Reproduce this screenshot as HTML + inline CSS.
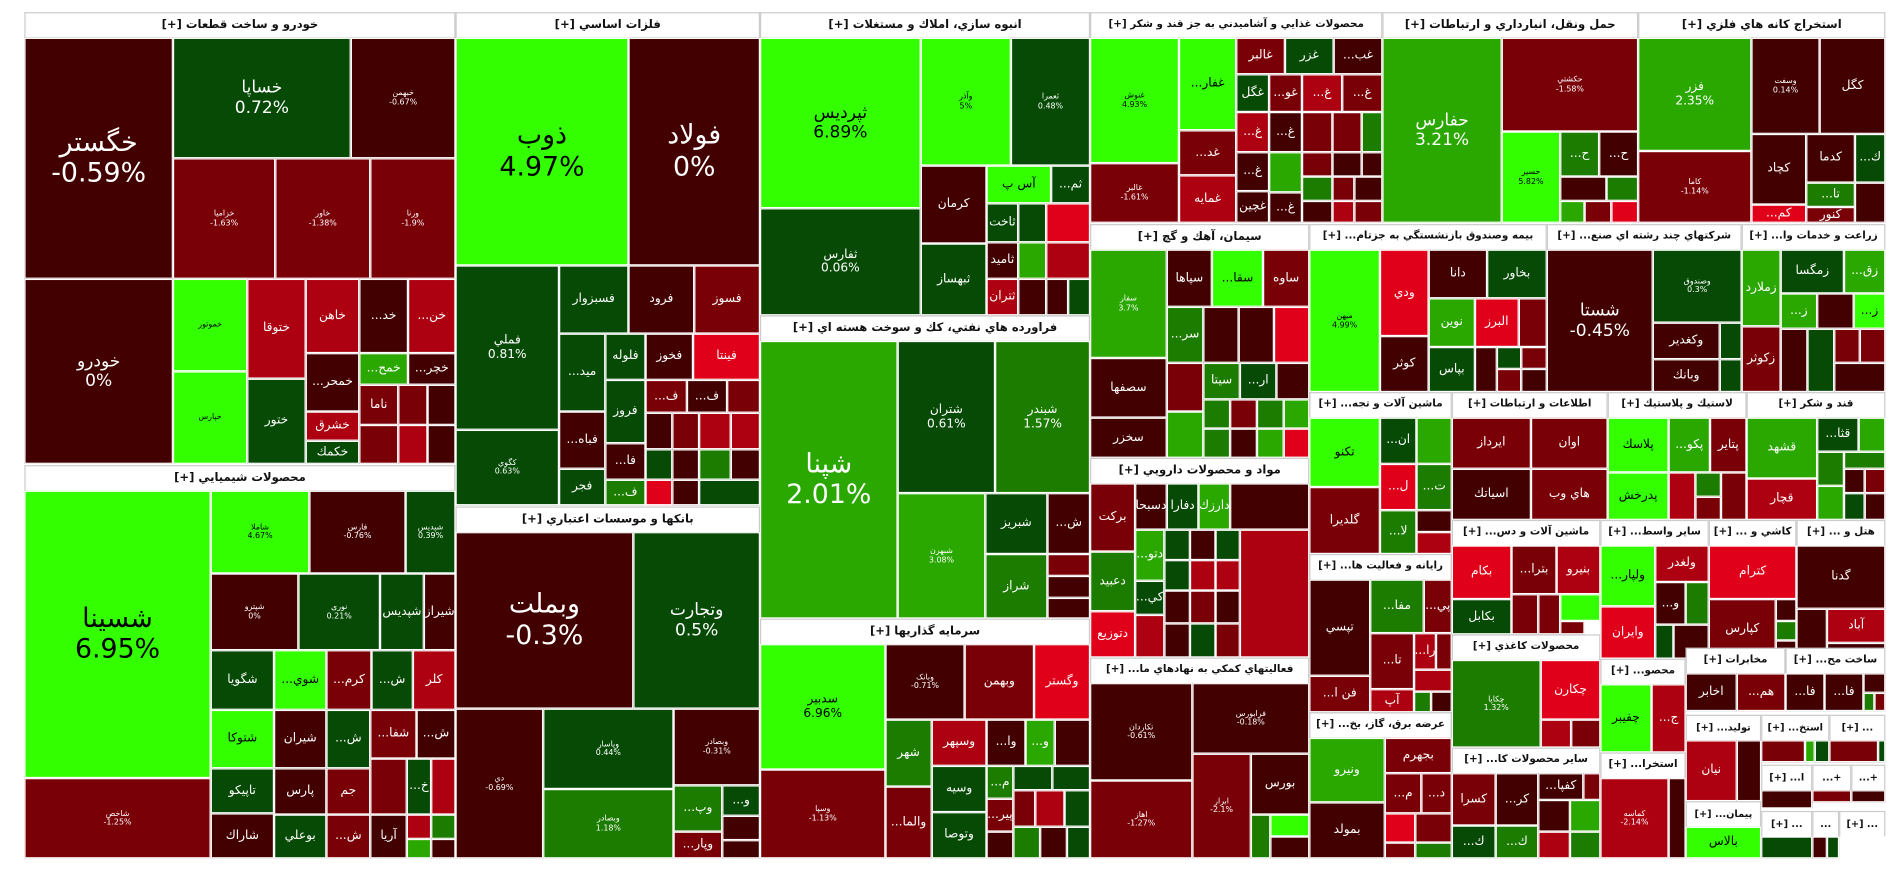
<!DOCTYPE html>
<html><head><meta charset="utf-8"><style>
html,body{margin:0;padding:0;background:#fff;width:1900px;height:873px;overflow:hidden}
#w{position:absolute;left:0;top:0;width:1560px;height:717px;transform:scale(1.21795,1.2176);transform-origin:0 0}
.t,.h{position:absolute;box-sizing:border-box;overflow:hidden;font-family:"DejaVu Sans","Liberation Sans",sans-serif;text-align:center;display:flex;flex-direction:column;align-items:center;justify-content:center;line-height:1.15;white-space:nowrap}
.h{direction:rtl}
.t{direction:ltr;border:1px solid #fff;color:#fff;font-size:10px}
.h{background:#fff;color:#111;font-size:9.5px;font-weight:bold;height:21px;border:1px solid #ccc;border-bottom:none}
.a{background:#420000}.b{background:#7a0008}.c{background:#ad0010}.d{background:#e0001a}
.f{background:#064a06}.g{background:#1c7c00}.k{background:#2aa800}.i{background:#33ff00;color:#000}
.L{font-size:22px}.M{font-size:14px}.S{font-size:6.5px}
</style></head><body><div id="w">
<!-- خودرو -->
<div class="h" style="left:20px;top:10px;width:354px">خودرو و ساخت قطعات [+]</div>
<div class="t a L" style="left:20px;top:31px;width:122px;height:198px">خگستر<br>-0.59%</div>
<div class="t a M" style="left:20px;top:229px;width:122px;height:152px">خودرو<br>0%</div>
<div class="t f M" style="left:142px;top:31px;width:146px;height:99px">خساپا<br>0.72%</div>
<div class="t a S" style="left:288px;top:31px;width:86px;height:99px">خبهمن<br>-0.67%</div>
<div class="t b S" style="left:142px;top:130px;width:84px;height:99px">خزامیا<br>-1.63%</div>
<div class="t b S" style="left:226px;top:130px;width:78px;height:99px">خاور<br>-1.38%</div>
<div class="t b S" style="left:304px;top:130px;width:70px;height:99px">ورنا<br>-1.9%</div>
<div class="t i S" style="left:142px;top:229px;width:61px;height:76px">خموتور</div>
<div class="t i S" style="left:142px;top:305px;width:61px;height:76px">خپارس</div>
<div class="t c" style="left:203px;top:229px;width:48px;height:82px">ختوقا</div>
<div class="t f" style="left:203px;top:311px;width:48px;height:70px">ختور</div>
<div class="t c" style="left:251px;top:229px;width:44px;height:61px">خاهن</div>
<div class="t a" style="left:295px;top:229px;width:40px;height:61px">...خد</div>
<div class="t c" style="left:335px;top:229px;width:39px;height:61px">...خن</div>
<div class="t a" style="left:251px;top:290px;width:44px;height:48px">...خمحر</div>
<div class="t k" style="left:295px;top:290px;width:40px;height:26px">...خمح</div>
<div class="t a" style="left:335px;top:290px;width:39px;height:26px">...خچر</div>
<div class="t c" style="left:251px;top:338px;width:44px;height:24px">خشرق</div>
<div class="t f" style="left:251px;top:362px;width:44px;height:19px">خكمك</div>
<div class="t b" style="left:295px;top:316px;width:32px;height:33px">ناما</div>
<div class="t b" style="left:327px;top:316px;width:24px;height:33px"></div>
<div class="t a" style="left:351px;top:316px;width:23px;height:33px"></div>
<div class="t b" style="left:295px;top:349px;width:32px;height:32px"></div>
<div class="t c" style="left:327px;top:349px;width:24px;height:32px"></div>
<div class="t a" style="left:351px;top:349px;width:23px;height:32px"></div>
<!-- شیمیایی -->
<div class="h" style="left:20px;top:382px;width:354px">محصولات شيميايي [+]</div>
<div class="t i L" style="left:20px;top:403px;width:153px;height:236px">شسينا<br>6.95%</div>
<div class="t b S" style="left:20px;top:639px;width:153px;height:66px">شاخص<br>-1.25%</div>
<div class="t i S" style="left:173px;top:403px;width:81px;height:68px">شاملا<br>4.67%</div>
<div class="t a S" style="left:254px;top:403px;width:79px;height:68px">فارس<br>-0.76%</div>
<div class="t f S" style="left:333px;top:403px;width:41px;height:68px">شپدیس<br>0.39%</div>
<div class="t a S" style="left:173px;top:471px;width:72px;height:63px">شپترو<br>0%</div>
<div class="t f S" style="left:245px;top:471px;width:67px;height:63px">نوری<br>0.21%</div>
<div class="t f" style="left:312px;top:471px;width:36px;height:63px">شپديس</div>
<div class="t a" style="left:348px;top:471px;width:26px;height:63px">شيراز</div>
<div class="t f" style="left:173px;top:534px;width:52px;height:49px">شگويا</div>
<div class="t i" style="left:225px;top:534px;width:43px;height:49px">...شوي</div>
<div class="t b" style="left:268px;top:534px;width:37px;height:49px">...كرم</div>
<div class="t f" style="left:305px;top:534px;width:34px;height:49px">...ش</div>
<div class="t c" style="left:339px;top:534px;width:35px;height:49px">كلر</div>
<div class="t i" style="left:173px;top:583px;width:52px;height:48px">شتوكا</div>
<div class="t f" style="left:173px;top:631px;width:52px;height:37px">تاپيكو</div>
<div class="t a" style="left:173px;top:668px;width:52px;height:37px">شاراك</div>
<div class="t a" style="left:225px;top:583px;width:43px;height:48px">شيران</div>
<div class="t a" style="left:225px;top:631px;width:43px;height:38px">پارس</div>
<div class="t f" style="left:225px;top:669px;width:43px;height:36px">بوعلي</div>
<div class="t f" style="left:268px;top:583px;width:36px;height:48px">...ش</div>
<div class="t b" style="left:268px;top:631px;width:36px;height:38px">جم</div>
<div class="t b" style="left:268px;top:669px;width:36px;height:36px">...ش</div>
<div class="t b" style="left:304px;top:583px;width:38px;height:40px">...شفا</div>
<div class="t a" style="left:342px;top:583px;width:32px;height:40px">...ش</div>
<div class="t b" style="left:304px;top:623px;width:30px;height:46px"></div>
<div class="t f" style="left:334px;top:623px;width:20px;height:46px">...خ</div>
<div class="t c" style="left:354px;top:623px;width:20px;height:46px"></div>
<div class="t a" style="left:304px;top:669px;width:30px;height:36px">آريا</div>
<div class="t c" style="left:334px;top:669px;width:20px;height:20px"></div>
<div class="t g" style="left:354px;top:669px;width:20px;height:20px"></div>
<div class="t k" style="left:334px;top:689px;width:20px;height:16px"></div>
<div class="t a" style="left:354px;top:689px;width:20px;height:16px"></div>
<!-- فلزات -->
<div class="h" style="left:374px;top:10px;width:250px">فلزات اساسي [+]</div>
<div class="t i L" style="left:374px;top:31px;width:142px;height:187px">ذوب<br>4.97%</div>
<div class="t a L" style="left:516px;top:31px;width:108px;height:187px">فولاد<br>0%</div>
<div class="t f" style="left:374px;top:218px;width:85px;height:135px">فملي<br>0.81%</div>
<div class="t f S" style="left:374px;top:353px;width:85px;height:62px">كگوي<br>0.63%</div>
<div class="t f" style="left:459px;top:218px;width:57px;height:56px">فسبزوار</div>
<div class="t a" style="left:516px;top:218px;width:54px;height:56px">فرود</div>
<div class="t b" style="left:570px;top:218px;width:54px;height:56px">فسوز</div>
<div class="t f" style="left:459px;top:274px;width:38px;height:64px">...ميد</div>
<div class="t f" style="left:497px;top:274px;width:33px;height:38px">فلوله</div>
<div class="t a" style="left:530px;top:274px;width:39px;height:38px">فخوز</div>
<div class="t d" style="left:569px;top:274px;width:55px;height:38px">فينتا</div>
<div class="t f" style="left:497px;top:312px;width:33px;height:52px">فروز</div>
<div class="t b" style="left:530px;top:312px;width:34px;height:27px">...ف</div>
<div class="t a" style="left:564px;top:312px;width:33px;height:27px">...ف</div>
<div class="t b" style="left:597px;top:312px;width:27px;height:27px"></div>
<div class="t a" style="left:459px;top:338px;width:38px;height:47px">...فباه</div>
<div class="t f" style="left:459px;top:385px;width:38px;height:30px">فجر</div>
<div class="t a" style="left:497px;top:364px;width:33px;height:30px">...فا</div>
<div class="t g" style="left:497px;top:394px;width:33px;height:21px">...ف</div>
<div class="t a" style="left:530px;top:339px;width:22px;height:30px"></div>
<div class="t b" style="left:552px;top:339px;width:22px;height:30px"></div>
<div class="t c" style="left:574px;top:339px;width:26px;height:30px"></div>
<div class="t c" style="left:600px;top:339px;width:24px;height:30px"></div>
<div class="t f" style="left:530px;top:369px;width:22px;height:25px"></div>
<div class="t a" style="left:552px;top:369px;width:22px;height:25px"></div>
<div class="t g" style="left:574px;top:369px;width:26px;height:25px"></div>
<div class="t a" style="left:600px;top:369px;width:24px;height:25px"></div>
<div class="t d" style="left:530px;top:394px;width:22px;height:21px"></div>
<div class="t a" style="left:552px;top:394px;width:22px;height:21px"></div>
<div class="t f" style="left:574px;top:394px;width:50px;height:21px"></div>
<!-- بانکها -->
<div class="h" style="left:374px;top:416px;width:250px">بانكها و موسسات اعتباري [+]</div>
<div class="t a L" style="left:374px;top:437px;width:146px;height:145px">وبملت<br>-0.3%</div>
<div class="t f M" style="left:520px;top:437px;width:104px;height:145px">وتجارت<br>0.5%</div>
<div class="t a S" style="left:374px;top:582px;width:72px;height:123px">دي<br>-0.69%</div>
<div class="t f S" style="left:446px;top:582px;width:107px;height:66px">وپاسار<br>0.44%</div>
<div class="t g S" style="left:446px;top:648px;width:107px;height:57px">وبصادر<br>1.18%</div>
<div class="t a S" style="left:553px;top:582px;width:71px;height:63px">وبصادر<br>-0.31%</div>
<div class="t g" style="left:553px;top:645px;width:40px;height:38px">...وپ</div>
<div class="t f" style="left:593px;top:645px;width:31px;height:25px">...و</div>
<div class="t a" style="left:593px;top:670px;width:31px;height:20px"></div>
<div class="t b" style="left:553px;top:683px;width:40px;height:22px">...وپار</div>
<div class="t a" style="left:593px;top:690px;width:31px;height:15px"></div>
<!-- انبوه سازی -->
<div class="h" style="left:624px;top:10px;width:271px">انبوه سازي، املاك و مستغلات [+]</div>
<div class="t i M" style="left:624px;top:31px;width:132px;height:140px">ثپرديس<br>6.89%</div>
<div class="t f" style="left:624px;top:171px;width:132px;height:88px">ثفارس<br>0.06%</div>
<div class="t i S" style="left:756px;top:31px;width:74px;height:105px">وآذر<br>5%</div>
<div class="t f S" style="left:830px;top:31px;width:65px;height:105px">ثعمرا<br>0.48%</div>
<div class="t a" style="left:756px;top:136px;width:54px;height:64px">كرمان</div>
<div class="t f" style="left:756px;top:200px;width:54px;height:59px">ثبهساز</div>
<div class="t i" style="left:810px;top:136px;width:53px;height:31px">آس پ</div>
<div class="t f" style="left:863px;top:136px;width:32px;height:31px">...ثم</div>
<div class="t f" style="left:810px;top:167px;width:26px;height:32px">ثاخت</div>
<div class="t a" style="left:810px;top:199px;width:26px;height:30px">ثامید</div>
<div class="t c" style="left:810px;top:229px;width:26px;height:30px">ثتران</div>
<div class="t f" style="left:836px;top:167px;width:23px;height:32px"></div>
<div class="t d" style="left:859px;top:167px;width:36px;height:32px"></div>
<div class="t k" style="left:836px;top:199px;width:23px;height:30px"></div>
<div class="t c" style="left:859px;top:199px;width:36px;height:30px"></div>
<div class="t a" style="left:836px;top:229px;width:23px;height:30px"></div>
<div class="t a" style="left:859px;top:229px;width:18px;height:30px"></div>
<div class="t f" style="left:877px;top:229px;width:18px;height:30px"></div>
<!-- فراورده نفتی -->
<div class="h" style="left:624px;top:259px;width:271px">فراورده هاي نفتي، كك و سوخت هسته اي [+]</div>
<div class="t k L" style="left:624px;top:280px;width:113px;height:228px">شپنا<br>2.01%</div>
<div class="t f" style="left:737px;top:280px;width:80px;height:125px">شتران<br>0.61%</div>
<div class="t g" style="left:817px;top:280px;width:78px;height:125px">شبندر<br>1.57%</div>
<div class="t k S" style="left:737px;top:405px;width:72px;height:103px">شبهرن<br>3.08%</div>
<div class="t f" style="left:809px;top:405px;width:51px;height:50px">شبريز</div>
<div class="t a" style="left:860px;top:405px;width:35px;height:50px">...ش</div>
<div class="t g" style="left:809px;top:455px;width:51px;height:53px">شراز</div>
<div class="t b" style="left:860px;top:455px;width:35px;height:18px"></div>
<div class="t a" style="left:860px;top:473px;width:35px;height:18px"></div>
<div class="t a" style="left:860px;top:491px;width:35px;height:17px"></div>
<!-- سرمایه گذاریها -->
<div class="h" style="left:624px;top:508px;width:271px">سرمايه گذاريها [+]</div>
<div class="t i" style="left:624px;top:529px;width:103px;height:103px">سدبير<br>6.96%</div>
<div class="t b S" style="left:624px;top:632px;width:103px;height:73px">وسپا<br>-1.13%</div>
<div class="t a S" style="left:727px;top:529px;width:65px;height:62px">وبانک<br>-0.71%</div>
<div class="t b" style="left:792px;top:529px;width:57px;height:62px">وبهمن</div>
<div class="t d" style="left:849px;top:529px;width:46px;height:62px">وگستر</div>
<div class="t g" style="left:727px;top:591px;width:38px;height:55px">شهر</div>
<div class="t b" style="left:727px;top:646px;width:38px;height:59px">...والما</div>
<div class="t c" style="left:765px;top:591px;width:45px;height:38px">وسپهر</div>
<div class="t f" style="left:765px;top:629px;width:45px;height:38px">وسيه</div>
<div class="t f" style="left:765px;top:667px;width:45px;height:38px">وتوصا</div>
<div class="t a" style="left:810px;top:591px;width:32px;height:38px">...وا</div>
<div class="t k" style="left:842px;top:591px;width:24px;height:38px">...و</div>
<div class="t a" style="left:866px;top:591px;width:29px;height:38px"></div>
<div class="t g" style="left:810px;top:629px;width:22px;height:27px">...م</div>
<div class="t b" style="left:810px;top:656px;width:22px;height:27px">...پير</div>
<div class="t a" style="left:810px;top:683px;width:22px;height:22px"></div>
<div class="t f" style="left:832px;top:629px;width:32px;height:20px"></div>
<div class="t f" style="left:864px;top:629px;width:31px;height:20px"></div>
<div class="t b" style="left:832px;top:649px;width:18px;height:30px"></div>
<div class="t c" style="left:850px;top:649px;width:24px;height:30px"></div>
<div class="t f" style="left:874px;top:649px;width:21px;height:30px"></div>
<div class="t g" style="left:832px;top:679px;width:22px;height:26px"></div>
<div class="t a" style="left:854px;top:679px;width:22px;height:26px"></div>
<div class="t f" style="left:876px;top:679px;width:19px;height:26px"></div>
<!-- غذایی -->
<div class="h" style="left:895px;top:10px;width:240px;font-size:8.5px">محصولات غذايي و آشاميدني به جز قند و شكر [+]</div>
<div class="t i S" style="left:895px;top:31px;width:73px;height:103px">غنوش<br>4.93%</div>
<div class="t b S" style="left:895px;top:134px;width:73px;height:49px">غالبر<br>-1.61%</div>
<div class="t i" style="left:968px;top:31px;width:47px;height:76px">...غفار</div>
<div class="t b" style="left:968px;top:107px;width:47px;height:37px">...غد</div>
<div class="t c" style="left:968px;top:144px;width:47px;height:39px">غمايه</div>
<div class="t b" style="left:1015px;top:31px;width:40px;height:30px">غالبر</div>
<div class="t f" style="left:1055px;top:31px;width:40px;height:30px">غزر</div>
<div class="t a" style="left:1095px;top:31px;width:40px;height:30px">...غب</div>
<div class="t f" style="left:1015px;top:61px;width:27px;height:31px">غگل</div>
<div class="t b" style="left:1042px;top:61px;width:27px;height:31px">...غو</div>
<div class="t c" style="left:1069px;top:61px;width:33px;height:31px">...غ</div>
<div class="t b" style="left:1102px;top:61px;width:33px;height:31px">...غ</div>
<div class="t c" style="left:1015px;top:92px;width:27px;height:33px">...غ</div>
<div class="t a" style="left:1042px;top:92px;width:27px;height:33px">...غ</div>
<div class="t b" style="left:1069px;top:92px;width:25px;height:33px"></div>
<div class="t b" style="left:1094px;top:92px;width:24px;height:33px"></div>
<div class="t g" style="left:1118px;top:92px;width:17px;height:33px"></div>
<div class="t a" style="left:1015px;top:125px;width:27px;height:32px">...غ</div>
<div class="t a" style="left:1015px;top:157px;width:27px;height:26px">غچين</div>
<div class="t k" style="left:1042px;top:125px;width:27px;height:33px"></div>
<div class="t a" style="left:1042px;top:158px;width:27px;height:25px">...غ</div>
<div class="t b" style="left:1069px;top:125px;width:25px;height:20px"></div>
<div class="t a" style="left:1094px;top:125px;width:24px;height:20px"></div>
<div class="t a" style="left:1118px;top:125px;width:17px;height:20px"></div>
<div class="t g" style="left:1069px;top:145px;width:25px;height:20px"></div>
<div class="t b" style="left:1094px;top:145px;width:18px;height:20px"></div>
<div class="t a" style="left:1112px;top:145px;width:23px;height:20px"></div>
<div class="t a" style="left:1069px;top:165px;width:25px;height:18px"></div>
<div class="t c" style="left:1094px;top:165px;width:18px;height:18px"></div>
<div class="t b" style="left:1112px;top:165px;width:23px;height:18px"></div>
<!-- حمل و نقل -->
<div class="h" style="left:1135px;top:10px;width:210px">حمل ونقل، انبارداري و ارتباطات [+]</div>
<div class="t k M" style="left:1135px;top:31px;width:98px;height:152px">حفارس<br>3.21%</div>
<div class="t b S" style="left:1233px;top:31px;width:112px;height:77px">حكشتي<br>-1.58%</div>
<div class="t i S" style="left:1233px;top:108px;width:48px;height:75px">حسير<br>5.82%</div>
<div class="t g" style="left:1281px;top:108px;width:32px;height:37px">...ح</div>
<div class="t a" style="left:1313px;top:108px;width:32px;height:37px">...ح</div>
<div class="t a" style="left:1281px;top:145px;width:38px;height:20px"></div>
<div class="t g" style="left:1319px;top:145px;width:26px;height:20px"></div>
<div class="t k" style="left:1281px;top:165px;width:20px;height:18px"></div>
<div class="t b" style="left:1301px;top:165px;width:22px;height:18px"></div>
<div class="t d" style="left:1323px;top:165px;width:22px;height:18px"></div>
<!-- استخراج -->
<div class="h" style="left:1345px;top:10px;width:203px">استخراج كانه هاي فلزي [+]</div>
<div class="t k" style="left:1345px;top:31px;width:93px;height:93px">فزر<br>2.35%</div>
<div class="t b S" style="left:1345px;top:124px;width:93px;height:59px">كاما<br>-1.14%</div>
<div class="t a S" style="left:1438px;top:31px;width:56px;height:79px">وسفت<br>0.14%</div>
<div class="t a" style="left:1494px;top:31px;width:54px;height:79px">كگل</div>
<div class="t a" style="left:1438px;top:110px;width:45px;height:58px">كچاد</div>
<div class="t d" style="left:1438px;top:168px;width:45px;height:15px">...كم</div>
<div class="t a" style="left:1483px;top:110px;width:40px;height:40px">كدما</div>
<div class="t f" style="left:1523px;top:110px;width:25px;height:40px">...ك</div>
<div class="t g" style="left:1483px;top:150px;width:40px;height:20px">...تا</div>
<div class="t b" style="left:1483px;top:170px;width:40px;height:13px">كنور</div>
<div class="t a" style="left:1523px;top:150px;width:25px;height:33px"></div>
<!-- سیمان -->
<div class="h" style="left:895px;top:184px;width:180px">سيمان، آهك و گچ [+]</div>
<div class="t k S" style="left:895px;top:205px;width:63px;height:89px">سفار<br>3.7%</div>
<div class="t a" style="left:895px;top:294px;width:63px;height:49px">سصفها</div>
<div class="t a" style="left:895px;top:343px;width:63px;height:33px">سخزر</div>
<div class="t a" style="left:958px;top:205px;width:37px;height:47px">سپاها</div>
<div class="t i" style="left:995px;top:205px;width:42px;height:47px">...سقا</div>
<div class="t b" style="left:1037px;top:205px;width:38px;height:47px">ساوه</div>
<div class="t g" style="left:958px;top:252px;width:30px;height:46px">...سر</div>
<div class="t a" style="left:988px;top:252px;width:29px;height:46px"></div>
<div class="t a" style="left:1017px;top:252px;width:29px;height:46px"></div>
<div class="t d" style="left:1046px;top:252px;width:29px;height:46px"></div>
<div class="t b" style="left:958px;top:298px;width:30px;height:40px"></div>
<div class="t k" style="left:958px;top:338px;width:30px;height:38px"></div>
<div class="t g" style="left:988px;top:298px;width:30px;height:30px">سيتا</div>
<div class="t f" style="left:1018px;top:298px;width:30px;height:30px">...ار</div>
<div class="t a" style="left:1048px;top:298px;width:27px;height:30px"></div>
<div class="t g" style="left:988px;top:328px;width:22px;height:24px"></div>
<div class="t b" style="left:1010px;top:328px;width:22px;height:24px"></div>
<div class="t g" style="left:1032px;top:328px;width:22px;height:24px"></div>
<div class="t k" style="left:1054px;top:328px;width:21px;height:24px"></div>
<div class="t g" style="left:988px;top:352px;width:22px;height:24px"></div>
<div class="t a" style="left:1010px;top:352px;width:22px;height:24px"></div>
<div class="t k" style="left:1032px;top:352px;width:22px;height:24px"></div>
<div class="t d" style="left:1054px;top:352px;width:21px;height:24px"></div>
<!-- دارویی -->
<div class="h" style="left:895px;top:376px;width:180px">مواد و محصولات دارويي [+]</div>
<div class="t b" style="left:895px;top:397px;width:37px;height:56px">بركت</div>
<div class="t g" style="left:895px;top:453px;width:37px;height:49px">دعبيد</div>
<div class="t d" style="left:895px;top:502px;width:37px;height:38px">دتوزيع</div>
<div class="t a" style="left:932px;top:397px;width:26px;height:38px">دسبحا</div>
<div class="t f" style="left:958px;top:397px;width:26px;height:38px">دفارا</div>
<div class="t k" style="left:984px;top:397px;width:26px;height:38px">دارزك</div>
<div class="t a" style="left:1010px;top:397px;width:65px;height:38px"></div>
<div class="t k" style="left:932px;top:435px;width:24px;height:42px">...دتو</div>
<div class="t f" style="left:932px;top:477px;width:24px;height:28px">...كي</div>
<div class="t c" style="left:932px;top:505px;width:24px;height:35px"></div>
<div class="t f" style="left:956px;top:435px;width:21px;height:25px"></div>
<div class="t a" style="left:977px;top:435px;width:21px;height:25px"></div>
<div class="t f" style="left:998px;top:435px;width:20px;height:25px"></div>
<div class="t f" style="left:956px;top:460px;width:21px;height:25px"></div>
<div class="t c" style="left:977px;top:460px;width:21px;height:25px"></div>
<div class="t c" style="left:998px;top:460px;width:20px;height:25px"></div>
<div class="t a" style="left:956px;top:485px;width:21px;height:27px"></div>
<div class="t b" style="left:977px;top:485px;width:21px;height:27px"></div>
<div class="t a" style="left:998px;top:485px;width:20px;height:27px"></div>
<div class="t a" style="left:956px;top:512px;width:21px;height:28px"></div>
<div class="t f" style="left:977px;top:512px;width:21px;height:28px"></div>
<div class="t b" style="left:998px;top:512px;width:20px;height:28px"></div>
<div class="t c" style="left:1018px;top:435px;width:57px;height:105px"></div>
<!-- فعالیتهای کمکی -->
<div class="h" style="left:895px;top:540px;width:180px;font-size:8.5px">فعاليتهاي كمكي به نهادهاي ما... [+]</div>
<div class="t a S" style="left:895px;top:561px;width:84px;height:80px">تكاردان<br>-0.61%</div>
<div class="t a S" style="left:979px;top:561px;width:96px;height:58px">فرابورس<br>-0.18%</div>
<div class="t b S" style="left:895px;top:641px;width:84px;height:64px">اهاز<br>-1.27%</div>
<div class="t b S" style="left:979px;top:619px;width:48px;height:86px">ابرار<br>-2.1%</div>
<div class="t a" style="left:1027px;top:619px;width:48px;height:50px">بورس</div>
<div class="t g" style="left:1027px;top:669px;width:16px;height:36px"></div>
<div class="t i" style="left:1043px;top:669px;width:32px;height:18px"></div>
<div class="t a" style="left:1043px;top:687px;width:32px;height:18px"></div>
<!-- بیمه -->
<div class="h" style="left:1075px;top:184px;width:195px;font-size:8.5px">بيمه وصندوق بازنشستگي به جزتام... [+]</div>
<div class="t i S" style="left:1075px;top:205px;width:58px;height:117px">ميهن<br>4.99%</div>
<div class="t d" style="left:1133px;top:205px;width:40px;height:71px">ودي</div>
<div class="t a" style="left:1133px;top:276px;width:40px;height:46px">كوثر</div>
<div class="t a" style="left:1173px;top:205px;width:48px;height:40px">دانا</div>
<div class="t f" style="left:1221px;top:205px;width:49px;height:40px">بخاور</div>
<div class="t k" style="left:1173px;top:245px;width:38px;height:40px">نوين</div>
<div class="t f" style="left:1173px;top:285px;width:38px;height:37px">بپاس</div>
<div class="t d" style="left:1211px;top:245px;width:36px;height:40px">البرز</div>
<div class="t b" style="left:1247px;top:245px;width:23px;height:40px"></div>
<div class="t a" style="left:1211px;top:285px;width:18px;height:37px"></div>
<div class="t f" style="left:1229px;top:285px;width:20px;height:18px"></div>
<div class="t b" style="left:1249px;top:285px;width:21px;height:18px"></div>
<div class="t b" style="left:1229px;top:303px;width:20px;height:19px"></div>
<div class="t a" style="left:1249px;top:303px;width:21px;height:19px"></div>
<!-- چند رشته -->
<div class="h" style="left:1270px;top:184px;width:160px;font-size:8.5px">شركتهاي چند رشته اي صنع... [+]</div>
<div class="t a M" style="left:1270px;top:205px;width:87px;height:117px">شستا<br>-0.45%</div>
<div class="t f S" style="left:1357px;top:205px;width:73px;height:60px">وصندوق<br>0.3%</div>
<div class="t a" style="left:1357px;top:265px;width:55px;height:30px">وكغدير</div>
<div class="t a" style="left:1357px;top:295px;width:55px;height:27px">وبانك</div>
<div class="t f" style="left:1412px;top:265px;width:18px;height:30px"></div>
<div class="t f" style="left:1412px;top:295px;width:18px;height:27px"></div>
<!-- زراعت -->
<div class="h" style="left:1430px;top:184px;width:118px;font-size:8.5px">زراعت و خدمات وا... [+]</div>
<div class="t k" style="left:1430px;top:205px;width:32px;height:63px">زملارد</div>
<div class="t b" style="left:1430px;top:268px;width:32px;height:54px">زكوثر</div>
<div class="t f" style="left:1462px;top:205px;width:52px;height:36px">زمگسا</div>
<div class="t k" style="left:1514px;top:205px;width:34px;height:36px">...زق</div>
<div class="t k" style="left:1462px;top:241px;width:30px;height:29px">...ز</div>
<div class="t a" style="left:1492px;top:241px;width:30px;height:29px"></div>
<div class="t i" style="left:1522px;top:241px;width:26px;height:29px">...ز</div>
<div class="t a" style="left:1462px;top:270px;width:22px;height:52px"></div>
<div class="t f" style="left:1484px;top:270px;width:22px;height:52px"></div>
<div class="t b" style="left:1506px;top:270px;width:21px;height:28px"></div>
<div class="t b" style="left:1527px;top:270px;width:21px;height:28px"></div>
<div class="t a" style="left:1506px;top:298px;width:42px;height:24px"></div>
<!-- ماشین آلات و تجه -->
<div class="h" style="left:1075px;top:322px;width:117px;font-size:8.5px">ماشين آلات و تجه... [+]</div>
<div class="t i" style="left:1075px;top:343px;width:58px;height:57px">تكنو</div>
<div class="t b" style="left:1075px;top:400px;width:58px;height:55px">گلديرا</div>
<div class="t f" style="left:1133px;top:343px;width:30px;height:38px">...ان</div>
<div class="t k" style="left:1163px;top:343px;width:29px;height:38px"></div>
<div class="t d" style="left:1133px;top:381px;width:30px;height:38px">...ل</div>
<div class="t g" style="left:1163px;top:381px;width:29px;height:38px">...ت</div>
<div class="t g" style="left:1133px;top:419px;width:30px;height:36px">...لا</div>
<div class="t a" style="left:1163px;top:419px;width:29px;height:18px"></div>
<div class="t c" style="left:1163px;top:437px;width:29px;height:18px"></div>
<!-- اطلاعات -->
<div class="h" style="left:1192px;top:322px;width:128px;font-size:8.5px">اطلاعات و ارتباطات [+]</div>
<div class="t b" style="left:1192px;top:343px;width:65px;height:42px">ايرداز</div>
<div class="t b" style="left:1257px;top:343px;width:63px;height:42px">اوان</div>
<div class="t a" style="left:1192px;top:385px;width:65px;height:42px">اسياتك</div>
<div class="t b" style="left:1257px;top:385px;width:63px;height:42px">هاي وب</div>
<!-- لاستیک -->
<div class="h" style="left:1320px;top:322px;width:114px;font-size:8.5px">لاستيك و پلاستيك [+]</div>
<div class="t i" style="left:1320px;top:343px;width:50px;height:45px">پلاسك</div>
<div class="t i" style="left:1320px;top:388px;width:50px;height:39px">پدرخش</div>
<div class="t k" style="left:1370px;top:343px;width:34px;height:45px">...پكو</div>
<div class="t b" style="left:1404px;top:343px;width:30px;height:45px">پتاير</div>
<div class="t c" style="left:1370px;top:388px;width:22px;height:39px"></div>
<div class="t g" style="left:1392px;top:388px;width:21px;height:20px"></div>
<div class="t b" style="left:1413px;top:388px;width:21px;height:39px"></div>
<div class="t b" style="left:1392px;top:408px;width:21px;height:19px"></div>
<!-- قند -->
<div class="h" style="left:1434px;top:322px;width:114px;font-size:8.5px">قند و شكر [+]</div>
<div class="t k" style="left:1434px;top:343px;width:58px;height:50px">قشهد</div>
<div class="t c" style="left:1434px;top:393px;width:58px;height:34px">قچار</div>
<div class="t f" style="left:1492px;top:343px;width:34px;height:28px">...قثا</div>
<div class="t k" style="left:1526px;top:343px;width:22px;height:28px"></div>
<div class="t g" style="left:1492px;top:371px;width:22px;height:28px"></div>
<div class="t g" style="left:1514px;top:371px;width:34px;height:14px"></div>
<div class="t a" style="left:1514px;top:385px;width:17px;height:20px"></div>
<div class="t b" style="left:1531px;top:385px;width:17px;height:20px"></div>
<div class="t k" style="left:1492px;top:399px;width:22px;height:28px"></div>
<div class="t f" style="left:1514px;top:405px;width:17px;height:22px"></div>
<div class="t a" style="left:1531px;top:405px;width:17px;height:22px"></div>
<!-- رایانه -->
<div class="h" style="left:1075px;top:455px;width:117px;font-size:8.5px">رايانه و فعاليت ها... [+]</div>
<div class="t a" style="left:1075px;top:476px;width:50px;height:79px">تپسي</div>
<div class="t b" style="left:1075px;top:555px;width:50px;height:30px">...فن ا</div>
<div class="t g" style="left:1125px;top:476px;width:44px;height:44px">...مفا</div>
<div class="t b" style="left:1169px;top:476px;width:23px;height:44px">...پي</div>
<div class="t b" style="left:1125px;top:520px;width:36px;height:46px">...تا</div>
<div class="t c" style="left:1125px;top:566px;width:36px;height:19px">آپ</div>
<div class="t c" style="left:1161px;top:520px;width:18px;height:30px">...را</div>
<div class="t b" style="left:1179px;top:520px;width:13px;height:30px"></div>
<div class="t c" style="left:1161px;top:550px;width:31px;height:18px"></div>
<div class="t g" style="left:1161px;top:568px;width:14px;height:17px"></div>
<div class="t a" style="left:1175px;top:568px;width:17px;height:17px"></div>
<!-- عرضه برق -->
<div class="h" style="left:1075px;top:585px;width:117px;font-size:8.5px">عرضه برق، گاز، بخ... [+]</div>
<div class="t k" style="left:1075px;top:606px;width:62px;height:53px">ونيرو</div>
<div class="t a" style="left:1075px;top:659px;width:62px;height:46px">بمولد</div>
<div class="t b" style="left:1137px;top:606px;width:55px;height:29px">بجهرم</div>
<div class="t b" style="left:1137px;top:635px;width:30px;height:33px">...م</div>
<div class="t b" style="left:1167px;top:635px;width:25px;height:33px">...د</div>
<div class="t d" style="left:1137px;top:668px;width:25px;height:24px"></div>
<div class="t b" style="left:1162px;top:668px;width:30px;height:24px"></div>
<div class="t b" style="left:1137px;top:692px;width:25px;height:13px"></div>
<div class="t g" style="left:1162px;top:692px;width:30px;height:13px"></div>
<!-- ماشین آلات و دس -->
<div class="h" style="left:1192px;top:427px;width:122px;font-size:8.5px">ماشين آلات و دس... [+]</div>
<div class="t d" style="left:1192px;top:448px;width:49px;height:44px">بكام</div>
<div class="t f" style="left:1192px;top:492px;width:49px;height:29px">بكابل</div>
<div class="t b" style="left:1241px;top:448px;width:37px;height:40px">...بترا</div>
<div class="t c" style="left:1278px;top:448px;width:36px;height:40px">بنيرو</div>
<div class="t b" style="left:1241px;top:488px;width:22px;height:33px"></div>
<div class="t b" style="left:1263px;top:488px;width:18px;height:33px"></div>
<div class="t i" style="left:1281px;top:488px;width:33px;height:22px"></div>
<div class="t b" style="left:1281px;top:510px;width:20px;height:11px"></div>
<!-- سایر واسط -->
<div class="h" style="left:1314px;top:427px;width:89px;font-size:8.5px">ساير واسط... [+]</div>
<div class="t i" style="left:1314px;top:448px;width:45px;height:50px">...ولپار</div>
<div class="t d" style="left:1314px;top:498px;width:45px;height:43px">وايران</div>
<div class="t c" style="left:1359px;top:448px;width:44px;height:30px">ولغدر</div>
<div class="t a" style="left:1359px;top:478px;width:25px;height:35px">...و</div>
<div class="t g" style="left:1384px;top:478px;width:19px;height:35px"></div>
<div class="t f" style="left:1359px;top:513px;width:15px;height:28px"></div>
<div class="t a" style="left:1374px;top:513px;width:29px;height:28px"></div>
<!-- کاشی -->
<div class="h" style="left:1403px;top:427px;width:72px;font-size:8.5px">كاشي و ... [+]</div>
<div class="t d" style="left:1403px;top:448px;width:72px;height:44px">كترام</div>
<div class="t b" style="left:1403px;top:492px;width:55px;height:49px">كپارس</div>
<div class="t a" style="left:1458px;top:492px;width:17px;height:18px"></div>
<div class="t g" style="left:1458px;top:510px;width:17px;height:16px"></div>
<div class="t a" style="left:1458px;top:526px;width:17px;height:15px"></div>
<!-- هتل -->
<div class="h" style="left:1475px;top:427px;width:73px;font-size:8.5px">هتل و ... [+]</div>
<div class="t a" style="left:1475px;top:448px;width:73px;height:52px">گدنا</div>
<div class="t a" style="left:1475px;top:500px;width:25px;height:41px"></div>
<div class="t c" style="left:1500px;top:500px;width:48px;height:28px">آباد</div>
<div class="t a" style="left:1500px;top:528px;width:48px;height:13px"></div>
<!-- کاغذی -->
<div class="h" style="left:1192px;top:521px;width:122px;font-size:8.5px">محصولات كاغذي [+]</div>
<div class="t g S" style="left:1192px;top:542px;width:73px;height:72px">چكاپا<br>1.32%</div>
<div class="t d" style="left:1265px;top:542px;width:49px;height:49px">چكارن</div>
<div class="t c" style="left:1265px;top:591px;width:25px;height:23px"></div>
<div class="t b" style="left:1290px;top:591px;width:24px;height:23px"></div>
<!-- سایر محصولات -->
<div class="h" style="left:1192px;top:614px;width:122px;font-size:8.5px">ساير محصولات كا... [+]</div>
<div class="t b" style="left:1192px;top:635px;width:36px;height:43px">كسرا</div>
<div class="t a" style="left:1228px;top:635px;width:35px;height:43px">...كر</div>
<div class="t f" style="left:1192px;top:678px;width:36px;height:27px">...ك</div>
<div class="t g" style="left:1228px;top:678px;width:35px;height:27px">...ك</div>
<div class="t a" style="left:1263px;top:635px;width:37px;height:22px">...كفپا</div>
<div class="t b" style="left:1300px;top:635px;width:14px;height:22px"></div>
<div class="t a" style="left:1263px;top:657px;width:26px;height:26px"></div>
<div class="t k" style="left:1289px;top:657px;width:25px;height:26px"></div>
<div class="t c" style="left:1263px;top:683px;width:26px;height:22px"></div>
<div class="t g" style="left:1289px;top:683px;width:25px;height:22px"></div>
<!-- محصو -->
<div class="h" style="left:1314px;top:541px;width:70px;font-size:8.5px">محصو... [+]</div>
<div class="t i" style="left:1314px;top:562px;width:42px;height:56px">چفيبر</div>
<div class="t c" style="left:1356px;top:562px;width:28px;height:56px">...ج</div>
<div class="h" style="left:1314px;top:618px;width:70px;font-size:8.5px">استخرا... [+]</div>
<div class="t c S" style="left:1314px;top:639px;width:56px;height:66px">كماسه<br>-2.14%</div>
<div class="t a" style="left:1370px;top:639px;width:14px;height:66px"></div>
<!-- مخابرات -->
<div class="h" style="left:1384px;top:532px;width:82px;font-size:8.5px">مخابرات [+]</div>
<div class="t a" style="left:1384px;top:553px;width:42px;height:31px">اخابر</div>
<div class="t b" style="left:1426px;top:553px;width:40px;height:31px">...هم</div>
<div class="t a" style="left:1466px;top:553px;width:32px;height:31px">...فا</div>
<div class="h" style="left:1466px;top:532px;width:82px;font-size:8.5px">ساخت مح... [+]</div>
<div class="t a" style="left:1498px;top:553px;width:32px;height:31px">...فا</div>
<div class="t a" style="left:1530px;top:553px;width:18px;height:16px"></div>
<div class="t g" style="left:1530px;top:569px;width:9px;height:15px"></div>
<div class="t b" style="left:1539px;top:569px;width:9px;height:15px"></div>
<!-- small bottom-right -->
<div class="h" style="left:1384px;top:587px;width:62px;font-size:8px">توليد... [+]</div>
<div class="t c" style="left:1384px;top:608px;width:42px;height:50px">نيان</div>
<div class="t a" style="left:1426px;top:608px;width:20px;height:50px"></div>
<div class="h" style="left:1384px;top:658px;width:62px;font-size:8px">پيمان... [+]</div>
<div class="t i" style="left:1384px;top:679px;width:62px;height:26px">بالاس</div>
<div class="h" style="left:1446px;top:587px;width:56px;font-size:8px">استخ... [+]</div>
<div class="t b" style="left:1446px;top:608px;width:36px;height:18px"></div>
<div class="t k" style="left:1482px;top:608px;width:8px;height:18px"></div>
<div class="t f" style="left:1490px;top:608px;width:12px;height:18px"></div>
<div class="h" style="left:1502px;top:587px;width:46px;font-size:8px">... [+]</div>
<div class="t b" style="left:1502px;top:608px;width:40px;height:18px"></div>
<div class="t f" style="left:1542px;top:608px;width:6px;height:18px"></div>
<div class="h" style="left:1446px;top:628px;width:42px;font-size:8px">ا... [+]</div>
<div class="t a" style="left:1446px;top:649px;width:42px;height:15px"></div>
<div class="h" style="left:1488px;top:628px;width:32px;font-size:8px">+...</div>
<div class="t b" style="left:1488px;top:649px;width:32px;height:10px"></div>
<div class="h" style="left:1520px;top:628px;width:28px;font-size:8px">+...</div>
<div class="t a" style="left:1520px;top:649px;width:28px;height:10px"></div>
<div class="h" style="left:1446px;top:666px;width:42px;font-size:8px">... [+]</div>
<div class="t f" style="left:1446px;top:687px;width:42px;height:18px"></div>
<div class="h" style="left:1488px;top:666px;width:22px;font-size:8px">...</div>
<div class="t a" style="left:1488px;top:687px;width:12px;height:18px"></div>
<div class="t f" style="left:1500px;top:687px;width:10px;height:18px"></div>
<div class="h" style="left:1510px;top:666px;width:38px;font-size:8px">... [+]</div>
</div></body></html>
